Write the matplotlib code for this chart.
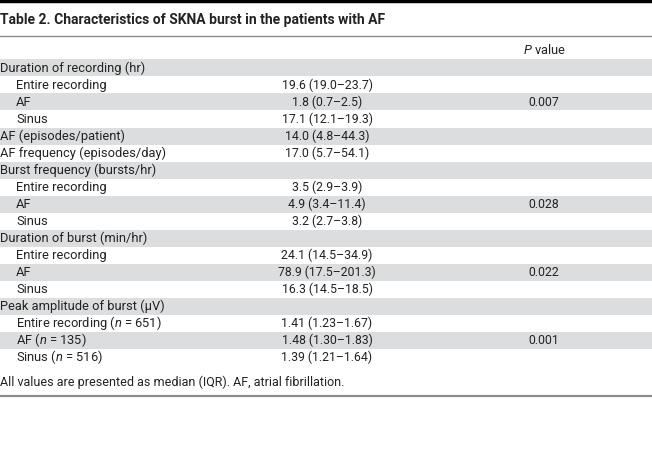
import matplotlib
matplotlib.use("Agg")
import matplotlib.pyplot as plt

plt.rcParams["font.family"] = ["Roboto", "DejaVu Sans"]
plt.rcParams["mathtext.fontset"] = "custom"
plt.rcParams["mathtext.rm"] = "Roboto"
plt.rcParams["mathtext.it"] = "Roboto:italic"

title = "Table 2. Characteristics of SKNA burst in the patients with AF"
footnote = "All values are presented as median (IQR). AF, atrial fibrillation."

labels = [
    "Duration of recording (hr)", "Entire recording", "AF", "Sinus",
    "AF (episodes/patient)", "AF frequency (episodes/day)",
    "Burst frequency (bursts/hr)", "Entire recording", "AF", "Sinus",
    "Duration of burst (min/hr)", "Entire recording", "AF", "Sinus",
    "Peak amplitude of burst (\u03bcV)",
    "Entire recording ($n$ = 651)", "AF ($n$ = 135)", "Sinus ($n$ = 516)",
]
indent = [0, 1, 1, 1, 0, 0, 0, 1, 1, 1, 0, 1, 1, 1, 0, 1, 1, 1]
values = [
    "", "19.6 (19.0\u201323.7)", "1.8 (0.7\u20132.5)", "17.1 (12.1\u201319.3)",
    "14.0 (4.8\u201344.3)", "17.0 (5.7\u201354.1)",
    "", "3.5 (2.9\u20133.9)", "4.9 (3.4\u201311.4)", "3.2 (2.7\u20133.8)",
    "", "24.1 (14.5\u201334.9)", "78.9 (17.5\u2013201.3)", "16.3 (14.5\u201318.5)",
    "", "1.41 (1.23\u20131.67)", "1.48 (1.30\u20131.83)", "1.39 (1.21\u20131.64)",
]
pvalues = ["", "", "0.007", "", "", "", "", "", "0.028", "", "", "", "0.022", "", "", "", "0.001", ""]

fig = plt.figure(figsize=(6.52, 4.61), dpi=100)
ax = fig.add_axes([0, 0, 1, 1])
ax.set_xlim(0, 652)
ax.set_ylim(461, 0)
ax.axis("off")

text_color = "#222222"
fs = 9.3
fs_num = 8.8

# rules
ax.axhline(1.5, color="black", linewidth=3.2)
ax.axhline(36.5, color="#8c8c8c", linewidth=1.0)
ax.axhline(396, color="#8c8c8c", linewidth=1.6)

ax.text(0, 20, title, fontsize=10, fontweight="bold", color=text_color, va="center")
ax.text(544, 50, "$P$ value", fontsize=fs, color=text_color, va="center", ha="center")

top = 59.5
row_h = 17.0
for i, lab in enumerate(labels):
    yc = top + row_h * (i + 0.5)
    if i % 2 == 0:
        ax.axhspan(top + row_h * i, top + row_h * (i + 1), color="#dcddde", linewidth=0, zorder=0)
    ax.text(16 * indent[i], yc, lab, fontsize=fs, color=text_color, va="center")
    ax.text(327, yc, values[i], fontsize=fs_num, color=text_color, va="center", ha="center")
    ax.text(544, yc, pvalues[i], fontsize=fs_num, color=text_color, va="center", ha="center")

ax.text(0, 382, footnote, fontsize=9.0, color=text_color, va="center")

fig.savefig("out.png", dpi=100, facecolor="white")
